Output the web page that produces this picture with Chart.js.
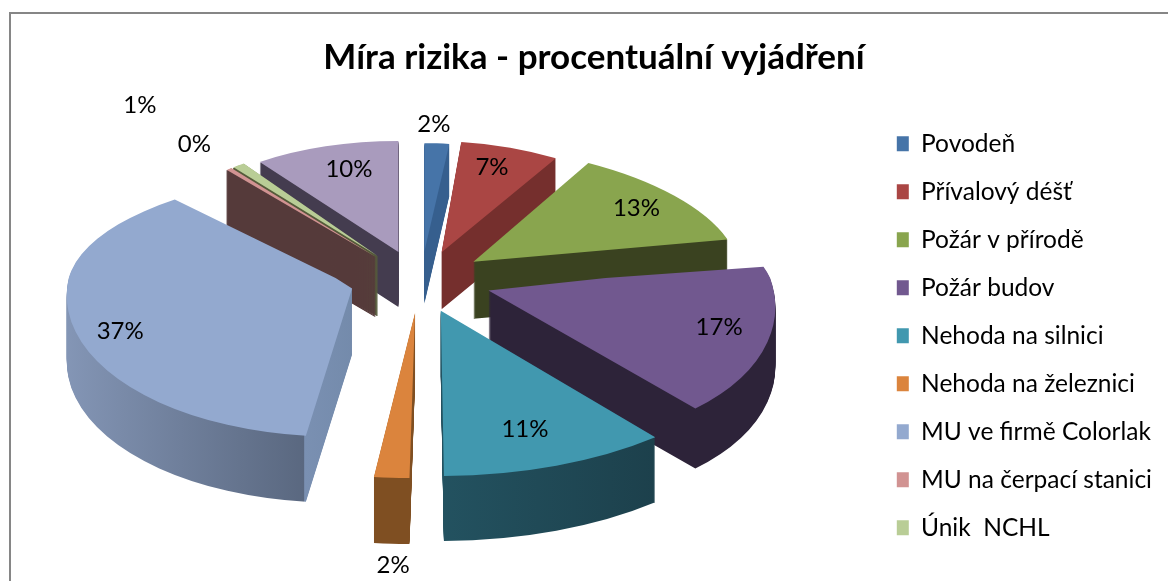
<!DOCTYPE html>
<html>
<head>
<meta charset="utf-8">
<title>Míra rizika</title>
<script src="https://cdn.jsdelivr.net/npm/chart.js@4/dist/chart.umd.min.js"></script>
<style>
  html, body { margin: 0; padding: 0; background: #fff; overflow: hidden; }
  #frame { position: absolute; left: 9px; top: 12px; width: 1159px; height: 569px; box-sizing: border-box; border-left: 2px solid #868686; border-top: 2px solid #868686; }
  #wrap { position: absolute; left: 0; top: 0; width: 1168px; height: 581px; }
</style>
</head>
<body>
<div id="frame"></div>
<div id="wrap"><canvas id="chart" width="1168" height="581"></canvas></div>
<script>
const chartTitle = 'Míra rizika - procentuální vyjádření';
// the last category is cut off from the legend in the picture
const categories = ['Povodeň', 'Přívalový déšť', 'Požár v přírodě', 'Požár budov', 'Nehoda na silnici', 'Nehoda na železnici', 'MU ve firmě Colorlak', 'MU na čerpací stanici', 'Únik  NCHL', ''];
const values = [2, 7, 13, 17, 11, 2, 37, 0.4, 0.9, 10];
const topColors = ['#4674a8', '#aa4644', '#89a54e', '#71588f', '#4198af', '#db843d', '#93a9cf', '#d19392', '#b9cd96', '#a99bbd'];

// fake perspective, one entry per slice
const explode = [70, 70, 70, 70, 60, 60, 70, 70, 70, 70];
const wallDepth = [52, 57, 57, 60, 65, 66, 66, 60, 60, 55];
const squashBack = [0.38, 0.39, 0.41, 0.36, 0.36, 0.36, 0.4, 0.4, 0.4, 0.39];
const squashFront = [0.59, 0.59, 0.59, 0.54, 0.58, 0.58, 0.52, 0.59, 0.59, 0.59];
const stretchX = [0.7, 0.8, 0.93, 1, 1.17, 1, 1, 0.8, 0.8, 0.83];
const shearX = [0, 0.08, 0.27, 0.2, 0, -0.05, -0.09, 0, 0, 0];

// wall fill of each slice, stops run over the slice's own width (0 = left rim, 1 = right rim)
const wallStops = [
  [[0, '#365f8e'], [1, '#365f8e']],
  [[0, '#752f2d'], [1, '#752f2d']],
  [[0, '#3a4220'], [1, '#3a4220']],
  [[0, '#2d2339'], [1, '#2d2339']],
  [[0.5, '#235260'], [0.9, '#1b3c47'], [1, '#1b3c47']],
  [[0, '#7f4f22'], [1, '#7f4f22']],
  [[0, '#8496b6'], [0.438, '#5a6880'], [0.44, '#7a90b2'], [0.52, '#7289a9'], [1, '#7289a9']],
  [[0, '#553a3a'], [1, '#553a3a']],
  [[0, '#555a3a'], [1, '#555a3a']],
  [[0, '#443c4f'], [1, '#443c4f']]
];

// percentage label placement: nudge in pixels from 70% of the radius
const labelNudgeX = [-3, -19, -6, 45, 15, -13, -42, -53, -116, 12];
const labelNudgeY = [-52, -12, -7, 1, 10, 137, 12, -51, -87, -9];

const pieCenterX = 420;
const pieCenterY = 278;
const pieRadiusX = 285;

function midAngle(el) {
  return (el.startAngle + el.endAngle) / 2;
}

function drawPiece(ctx, chart, el, i, shift, squash, clipTop, clipBottom, k) {
  const a = midAngle(el);
  ctx.save();
  ctx.beginPath();
  ctx.rect(0, clipTop + shift, chart.width, clipBottom - clipTop);
  ctx.clip();
  ctx.translate(pieCenterX, pieCenterY + shift);
  ctx.transform(1, 0, shearX[i] * squash, squash, 0, 0);
  ctx.translate(Math.cos(a) * explode[i], Math.sin(a) * explode[i]);
  ctx.scale(k * stretchX[i], k);
  ctx.translate(-el.x, -el.y);
  el.draw(ctx);
  ctx.restore();
}

function drawLayer(ctx, chart, el, i, shift, k) {
  drawPiece(ctx, chart, el, i, shift, squashBack[i], -100, pieCenterY, k);
  drawPiece(ctx, chart, el, i, shift, squashFront[i], pieCenterY, 800, k);
}

const pie3d = {
  id: 'pie3d',
  beforeDatasetsDraw(chart) {
    const ctx = chart.ctx;
    const arcs = chart.getDatasetMeta(0).data;
    const R = arcs[0].outerRadius;
    const k = pieRadiusX / R;
    const order = arcs.map((a, i) => i).sort((a, b) => Math.sin(midAngle(arcs[a])) - Math.sin(midAngle(arcs[b])));

    order.forEach((i) => {
      const el = arcs[i];
      const topOptions = el.options;
      const grad = ctx.createLinearGradient(el.x - R, 0, el.x + R, 0);
      wallStops[i].forEach((s) => grad.addColorStop(s[0], s[1]));
      // very thin slices need a stroke or the stacked wall frays out
      const thin = el.circumference < 0.1;
      el.options = { ...topOptions, backgroundColor: grad, borderColor: grad, borderWidth: thin ? 1.5 : 0 };
      for (let d = wallDepth[i]; d >= 1; d--) {
        drawLayer(ctx, chart, el, i, d, k);
      }
      el.options = topOptions;
      drawLayer(ctx, chart, el, i, 0, k);
    });

    const total = values.reduce((a, b) => a + b, 0);
    ctx.save();
    ctx.font = '24px Lato';
    ctx.fillStyle = '#000';
    ctx.textAlign = 'center';
    ctx.textBaseline = 'middle';
    arcs.forEach((el, i) => {
      const a = midAngle(el);
      const r = explode[i] + 0.7 * pieRadiusX;
      const py = Math.sin(a) * r;
      const x = pieCenterX + Math.cos(a) * r + labelNudgeX[i];
      const y = pieCenterY + py * (py > 0 ? squashFront[i] : squashBack[i]) + labelNudgeY[i];
      ctx.fillText(Math.round(values[i] / total * 100) + '%', x, y);
    });
    ctx.restore();
    return false;
  }
};

new Chart(document.getElementById('chart').getContext('2d'), {
  type: 'pie',
  plugins: [pie3d],
  data: {
    labels: categories,
    datasets: [{
      data: values,
      backgroundColor: topColors,
      borderWidth: 0,
      hoverOffset: 0
    }]
  },
  options: {
    responsive: false,
    animation: false,
    layout: { padding: { left: 26, right: 6, top: 0, bottom: 0 } },
    plugins: {
      tooltip: { enabled: false },
      title: {
        display: true,
        text: chartTitle,
        color: '#000',
        font: { family: 'Lato', size: 35, weight: 'bold' },
        padding: { top: 37, bottom: 29 }
      },
      legend: {
        position: 'right',
        align: 'start',
        fullSize: false,
        labels: {
          boxWidth: 12,
          boxHeight: 15,
          padding: 23.5,
          color: '#000',
          font: { family: 'Lato', size: 24.5 },
          filter: (item) => item.text !== ''
        }
      }
    }
  }
});
</script>
</body>
</html>
